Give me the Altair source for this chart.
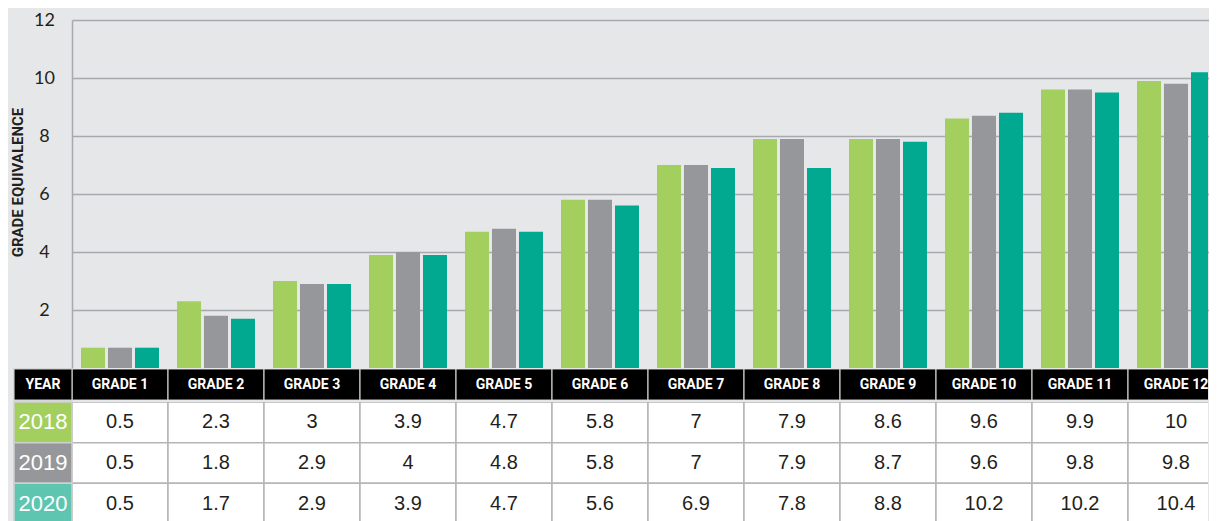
import altair as alt
import pandas as pd

grades = [f"GRADE {i}" for i in range(1, 13)]
years = ["2018", "2019", "2020"]

# bar heights as drawn in the chart
bar_2018 = [0.7, 2.3, 3.0, 3.9, 4.7, 5.8, 7.0, 7.9, 7.9, 8.6, 9.6, 9.9]
bar_2019 = [0.7, 1.8, 2.9, 4.0, 4.8, 5.8, 7.0, 7.9, 7.9, 8.7, 9.6, 9.8]
bar_2020 = [0.7, 1.7, 2.9, 3.9, 4.7, 5.6, 6.9, 6.9, 7.8, 8.8, 9.5, 10.2]

# values printed in the data table
table_2018 = ["0.5", "2.3", "3", "3.9", "4.7", "5.8", "7", "7.9", "8.6", "9.6", "9.9", "10"]
table_2019 = ["0.5", "1.8", "2.9", "4", "4.8", "5.8", "7", "7.9", "8.7", "9.6", "9.8", "9.8"]
table_2020 = ["0.5", "1.7", "2.9", "3.9", "4.7", "5.6", "6.9", "7.8", "8.8", "10.2", "10.2", "10.4"]

bar_colors = ["#a3cf5f", "#96979b", "#00a98f"]
cell_colors = ["#a3cf5f", "#96979b", "#5ec5b1"]

y_ticks = [2, 4, 6, 8, 10, 12]

W = 1136          # visible plot width (page edge)
FULL = 1152       # full extent of the 12 grade columns (last one runs off the page)
NARROW = "Roboto"
GRID = "#a7a9ac"
BORDER = "#b5b5b5"

bars_df = pd.DataFrame(
    [{"grade": g, "year": y, "value": v}
     for y, vals in zip(years, [bar_2018, bar_2019, bar_2020])
     for g, v in zip(grades, vals)]
)
table_df = pd.DataFrame(
    [{"grade": g, "year": y, "label": t}
     for y, vals in zip(years, [table_2018, table_2019, table_2020])
     for g, t in zip(grades, vals)]
)
header_df = pd.DataFrame({"grade": grades, "row": ["header"] * len(grades)})
years_df = pd.DataFrame({"year": years})
yearhead_df = pd.DataFrame({"row": ["header"], "label": ["YEAR"]})

x_grade_bars = alt.X("grade:N", sort=grades, axis=None,
                     scale=alt.Scale(range=[0, FULL], paddingInner=0.1875, paddingOuter=0.09375))
x_grade_tab = alt.X("grade:N", sort=grades, axis=None,
                    scale=alt.Scale(range=[0, FULL], paddingInner=0, paddingOuter=0))

bars = alt.Chart(bars_df).mark_bar(clip=True).encode(
    x=x_grade_bars,
    xOffset=alt.XOffset("year:N", sort=years,
                        scale=alt.Scale(paddingInner=0.111, paddingOuter=0)),
    y=alt.Y("value:Q",
            scale=alt.Scale(domain=[0, 12], nice=False),
            axis=alt.Axis(values=y_ticks, title="GRADE EQUIVALENCE",
                          titleFont=NARROW, titleFontSize=15, titleFontWeight="bold",
                          titleColor="#231f20", titleAngle=270, titleX=-55, titleY=162,
                          titleAlign="center", titleBaseline="middle",
                          labelFont="Lato", labelFontSize=18, labelColor="#231f20",
                          labelAlign="center", labelBaseline="middle", labelPadding=28,
                          ticks=False, tickSize=0, grid=True, gridColor=GRID, gridWidth=1.5,
                          domain=True, domainColor=GRID, domainWidth=1.5)),
    color=alt.Color("year:N", scale=alt.Scale(domain=years, range=bar_colors), legend=None),
).properties(width=W, height=348)

# header row
y_head = alt.Y("row:N", axis=None, scale=alt.Scale(paddingInner=0, paddingOuter=0))
head_rect = alt.Chart(header_df).mark_rect(fill="#000000", stroke="#c8c8c8", strokeWidth=1.2,
                                           clip=True).encode(x=x_grade_tab, y=y_head)
head_text = alt.Chart(header_df).mark_text(font=NARROW, fontSize=14, fontWeight="bold",
                                           color="#ffffff", baseline="middle").encode(
    x=x_grade_tab, y=y_head, text="grade:N")
yh_rect = alt.Chart(yearhead_df).mark_rect(fill="#000000", stroke="#c8c8c8", strokeWidth=1.2).encode(
    x=alt.value(-58), x2=alt.value(0), y=y_head)
yh_text = alt.Chart(yearhead_df).mark_text(font=NARROW, fontSize=14, fontWeight="bold",
                                           color="#ffffff", baseline="middle").encode(
    x=alt.value(-29), y=y_head, text="label:N")
header = alt.layer(head_rect, yh_rect, head_text, yh_text).properties(width=W, height=31)

# body rows
y_row = alt.Y("year:N", sort=years, axis=None, scale=alt.Scale(paddingInner=0, paddingOuter=0))
cell_rect = alt.Chart(table_df).mark_rect(fill="#ffffff", stroke=BORDER, strokeWidth=1.5,
                                          clip=True).encode(x=x_grade_tab, y=y_row)
cell_text = alt.Chart(table_df).mark_text(font="Liberation Sans, Arial", fontSize=20,
                                          color="#231f20", baseline="middle").encode(
    x=x_grade_tab, y=y_row, text="label:N")
yr_rect = alt.Chart(years_df).mark_rect(stroke="#d0d0d0", strokeWidth=1.5).encode(
    x=alt.value(-58), x2=alt.value(0), y=y_row,
    fill=alt.Fill("year:N", scale=alt.Scale(domain=years, range=cell_colors), legend=None))
yr_text = alt.Chart(years_df).mark_text(font="Liberation Sans, Arial", fontSize=22,
                                        color="#ffffff", baseline="middle").encode(
    x=alt.value(-29), y=y_row, text="year:N")
body = alt.layer(cell_rect, yr_rect, cell_text, yr_text).properties(width=W, height=122)

chart = alt.vconcat(bars, header, body, spacing=0).resolve_scale(
    color="independent", fill="independent"
).properties(
    padding={"left": 2, "top": 3, "right": 0, "bottom": 0},
    background="#e6e7e9",
).configure_view(stroke=None)

chart.save("out.html", embed_options={"renderer": "svg", "actions": False})
